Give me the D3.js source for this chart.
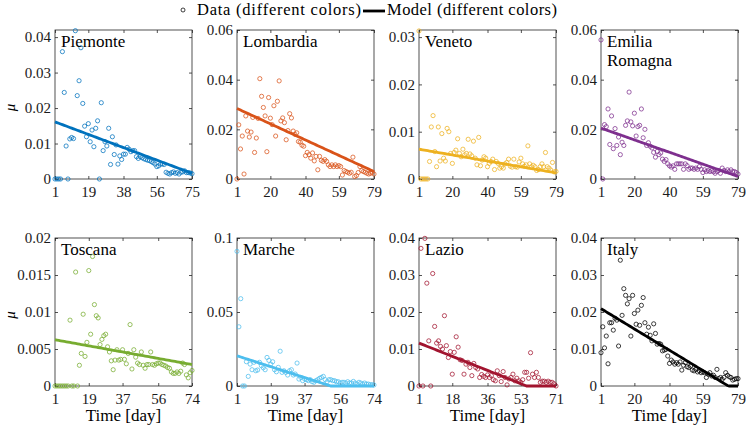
<!DOCTYPE html>
<html><head><meta charset="utf-8">
<script src="https://cdn.jsdelivr.net/npm/d3@7"></script>
<style>body{margin:0;background:#fff} svg{display:block}</style>
</head><body><svg id="c" width="746" height="428"></svg>
<script>
const regions = ["Piemonte","Lombardia","Veneto","Emilia\nRomagna","Toscana","Marche","Lazio","Italy"];
const colors = ["#0072BD","#D95319","#EDB120","#7E2F8E","#77AC30","#4DBEEE","#A2142F","#000000"];

const piemonte = [0,0,0,0,0.0359,0.0244,0.0093,0,0.0113,0.0117,
0.0114,0.0418,0.0235,0.0277,0.037,0.0213,0.0149,0.0119,0.0156,0.0105,
0.0138,0.0091,0.0143,0.0164,0,0.0215,0.008,0.0105,0.0093,0.0143,
0.0041,0.0119,0.0069,0.0096,0.0042,0.0065,0.0055,0.007,0.007,0.0089,
0.0084,0.0077,0.008,0.008,0.0063,0.0058,0.0063,0.006,0.0057,0.0055,
0.0053,0.0052,0.0049,0.0046,0.0042,0.0035,0.0037,0.0042,0.0042,0.0041,
0.0019,0.0016,0.0014,0.0018,0.002,0.0016,0.0018,0.0014,0.0019,0.002,
0.0023,0.0018,0.0018,0.0017,0.0015];
const lombardia = [0,0.0218,0.0121,0.0173,0.002,0.0254,0.0193,0.0169,0.0189,0.0248,
0.0107,0.0165,0.0244,0.0404,0.0333,0.0288,0.0254,0.011,0.0328,0.0245,
0.0219,0.0295,0.0173,0.0313,0.0395,0.0234,0.0246,0.0227,0.0158,0.0195,
0.0263,0.0246,0.0193,0.018,0.0186,0.0151,0.0148,0.0136,0.0132,0.0094,
0.0107,0.0098,0.0084,0.0105,0.0073,0.0091,0.0037,0.0091,0.0075,0.0071,
0.0078,0.0071,0.0057,0.005,0.0057,0.005,0.0057,0.005,0.0054,0.005,
0.0016,0.0034,0.003,0.0027,0.0023,0.0027,0.0088,0.001,0.0014,0.0026,
0.005,0.0034,0.003,0.0027,0.0023,0.002,0.0023,0.0027,0.002];
const veneto = [0.0313,0,0,0,0,0,0.0037,0.011,0.0134,0.0058,
0.0026,0.011,0.0038,0.0096,0.0044,0.0038,0.0107,0.01,0.0054,0.0033,
0.0056,0.0061,0.0085,0.0054,0.0047,0.0063,0.0051,0.0054,0.0084,0.0053,
0.0049,0.008,0.0044,0.003,0.0088,0.0028,0.004,0.0047,0.0044,0.0026,
0.0033,0.0037,0.0042,0.002,0.0037,0.0033,0.0023,0.0026,0.0023,0.0032,
0.0035,0.0042,0.0027,0.0025,0.0042,0.0026,0.0025,0.0036,0.0044,0.0032,
0.0027,0.003,0.007,0.0032,0.0026,0.0029,0.0026,0.0018,0.002,0.0026,
0.0032,0.0026,0.0056,0.0026,0.0023,0.0019,0.0035,0.0015,0.0016];
const emilia = [0.056,0,0.0219,0.0211,0.0282,0.0139,0.0254,0.0122,0.0203,0.0135,
0.0169,0.0098,0.0148,0.0135,0.0216,0.0234,0.035,0.023,0.0214,0.0265,
0.0173,0.0211,0.0216,0.0282,0.0166,0.02,0.0135,0.0146,0.0132,0.0125,
0.0107,0.0088,0.0111,0.0098,0.0105,0.008,0.0071,0.0078,0.0061,0.0053,
0.0048,0.0053,0.0039,0.0061,0.0061,0.0061,0.0061,0.0039,0.0061,0.0054,
0.0039,0.0044,0.0044,0.0039,0.0044,0.0039,0.005,0.0039,0.0026,0.0037,
0.003,0.0034,0.003,0.0034,0.0029,0.0023,0.003,0.0034,0.0023,0.0044,
0.0034,0.003,0.0037,0.003,0.0037,0.003,0.003,0.0026,0.002];
const toscana = [0,0,0,0,0,0,0,0,0.0089,0,
0,0.0154,0,0.0028,0.0044,0.0097,0.004,0.0059,0.0156,0.007,
0.0175,0.011,0.0095,0.0092,0.0056,0.0063,0.0068,0.007,0.0053,0.0046,
0.0034,0.0022,0.0035,0.0049,0.0035,0.0036,0.0049,0.0036,0.003,0.0044,
0.0083,0.0023,0.0049,0.0039,0.0031,0.0029,0.0046,0.0028,0.0024,0.0029,
0.0029,0.0046,0.0029,0.0028,0.003,0.0031,0.0031,0.0029,0.0028,0.0027,
0.0025,0.0024,0.0019,0.0017,0.0017,0.0019,0.0017,0.002,0.0031,0.0029,
0.0015,0.0011,0.0018,0.0021];
const marche = [0.091,0.04,0.059,0,0,0.0164,0.0065,0.0148,0.011,0.016,
0.0103,0.0108,0.016,0.0137,0.0123,0.011,0.0193,0.0173,0.0148,0.0164,
0.011,0.0096,0.0126,0.0235,0.0092,0.0103,0.0092,0.0074,0.0103,0.011,
0.0074,0.0081,0.0155,0.0047,0.0058,0.0036,0.0047,0.0043,0.0036,0.0043,
0.0029,0.0025,0.0036,0.0043,0.0052,0.0058,0.0065,0.0043,0.0029,0.0043,
0.0043,0.0036,0.0036,0.0029,0.0029,0.002,0.0025,0.0025,0.002,0.0029,
0.002,0.002,0.0031,0.002,0.0013,0.0025,0.002,0.0013,0.002,0.0013,
0.0013,0.0009,0.0009,0.0007];
const lazio = [0,0.0372,0,0.0399,0.0278,0.0122,0,0.0304,0.0161,0.0116,
0.0122,0.0107,0.01,0.019,0.0109,0.0077,0.0093,0.0032,0.0091,0.0133,
0.0105,0.0071,0.0069,0.0032,0.0059,0.0064,0.005,0.0028,0.0061,0.005,
0.0046,0.0023,0.0031,0.0026,0.0023,0.003,0.0023,0.0028,0.0017,0.0014,
0.0041,0.0028,0.0012,0.0039,0.0023,0.0003,0.0019,0.0023,0.0032,0.0014,
0.0021,0.0014,0.001,0.0017,0.0037,0.0037,0.0021,0.009,0.0032,0.0023,
0.0037,0.0023,0.001,0.0013,0.0013,0.001,0.0013,0.001,0.001,0.0006,
0];
const italy = [0.009,0.016,0.0103,0.0135,0.006,0.0171,0.0171,0.0151,0.0183,0.0178,
0.0108,0.034,0.0191,0.0263,0.0245,0.0222,0.0236,0.0135,0.0245,0.0196,
0.0167,0.0205,0.0164,0.0218,0.0239,0.0171,0.014,0.0159,0.0137,0.0122,
0.0168,0.0142,0.0113,0.0115,0.0113,0.0095,0.0097,0.0099,0.0081,0.0061,
0.007,0.0065,0.0059,0.0063,0.0059,0.0065,0.0043,0.0056,0.0063,0.0052,
0.005,0.0054,0.0043,0.0041,0.0045,0.0038,0.0041,0.0036,0.0038,0.0036,
0.0023,0.0032,0.0036,0.0027,0.0029,0.0023,0.0045,0.002,0.0023,0.0018,
0.0023,0.0036,0.0029,0.0025,0.0023,0.0016,0.0018,0.002,0.002];

const series = [piemonte, lombardia, veneto, emilia, toscana, marche, lazio, italy];
const xMax = [75,79,79,79,74,74,71,79];
const xTicks = [[1,19,38,56,75],[1,20,40,59,79],[1,20,40,59,79],[1,20,40,59,79],
                [1,19,37,56,74],[1,19,37,56,74],[1,18,36,53,71],[1,20,40,59,79]];
const yMax = [0.042,0.06,0.0315,0.06,0.02,0.1,0.04,0.04];
const yTicks = [[0,0.01,0.02,0.03,0.04],[0,0.02,0.04,0.06],[0,0.01,0.02,0.03],[0,0.02,0.04,0.06],
                [0,0.005,0.01,0.015,0.02],[0,0.05,0.1],[0,0.01,0.02,0.03,0.04],[0,0.01,0.02,0.03,0.04]];
// linear model: value at first day and at last day (unclipped), clipped at 0 when drawn
const modelStart = [0.0161,0.0284,0.0063,0.0205,0.00625,0.0204,0.0116,0.0209];
const modelEnd   = [0.0016,0.003,0.0013,0.001,0.0029,-0.0094,-0.00316,-0.00159];
const legendLabels = ["Data (different colors)", "Model (different colors)"];

const svg = d3.select("#c");
const FONT = "'Liberation Serif', 'Times New Roman', serif";
const AX = "#262626";
const colLeft = [55,237,419,601], W = 137;
const rowTop = [30,238], rowBot = [179,386];

series.forEach((vals, i) => {
  const r = Math.floor(i/4), c = i%4;
  const L = colLeft[c], R = L + W, T = rowTop[r], B = rowBot[r];
  const x = d3.scaleLinear([1, xMax[i]], [L, R]);
  const y = d3.scaleLinear([0, yMax[i]], [B, T]);
  const g = svg.append("g");
  const fmt = d => d === 0 ? "0" : String(d);
  const styleAxis = sel => {
    sel.select(".domain").remove();
    sel.selectAll(".tick line").attr("stroke", AX).attr("stroke-width", 0.8);
    sel.selectAll(".tick text").attr("fill", "#1a1a1a").style("font-family", FONT).style("font-size", "15px");
  };
  g.append("g").attr("transform", `translate(0,${B})`)
    .call(d3.axisBottom(x).tickValues(xTicks[i]).tickSize(-3).tickPadding(7.5).tickFormat(fmt)).call(styleAxis);
  g.append("g").attr("transform", `translate(0,${T})`)
    .call(d3.axisTop(x).tickValues(xTicks[i]).tickSize(-3).tickFormat("")).call(styleAxis);
  g.append("g").attr("transform", `translate(${L},0)`)
    .call(d3.axisLeft(y).tickValues(yTicks[i]).tickSize(-3).tickPadding(4).tickFormat(fmt)).call(styleAxis);
  g.append("g").attr("transform", `translate(${R},0)`)
    .call(d3.axisRight(y).tickValues(yTicks[i]).tickSize(-3).tickFormat("")).call(styleAxis);
  g.append("rect").attr("x", L).attr("y", T).attr("width", W).attr("height", B-T)
    .attr("fill", "none").attr("stroke", AX).attr("stroke-width", 0.8);

  // data circles
  g.selectAll("circle.d").data(vals).join("circle")
    .attr("cx", (d, k) => x(k+1)).attr("cy", d => y(d)).attr("r", 2.1)
    .attr("fill", "none").attr("stroke", colors[i]).attr("stroke-width", 0.75);

  // model line
  const n = xMax[i];
  const days = d3.range(1, n+1);
  const m = t => Math.max(0, modelStart[i] + (modelEnd[i]-modelStart[i])*(t-1)/(n-1));
  g.append("path").datum(days)
    .attr("d", d3.line().x(t => x(t)).y(t => y(m(t))))
    .attr("fill", "none").attr("stroke", colors[i]).attr("stroke-width", 2.8);

  // title
  const lines = regions[i].split("\n");
  const tt = g.append("text").attr("x", L+6).attr("y", T+17)
    .style("font-family", FONT).style("font-size", "17px").attr("fill", "#000");
  lines.forEach((ln, k) => tt.append("tspan").attr("x", L+6).attr("dy", k ? 19 : 0).text(ln));

  if (c === 0) {
    g.append("text").attr("transform", `translate(15,${(T+B)/2+3}) rotate(-90)`)
      .attr("text-anchor", "middle").style("font-family", FONT).style("font-style", "italic")
      .style("font-size", "15px").text("μ");
  }
  if (r === 1) {
    g.append("text").attr("x", (L+R)/2).attr("y", B+35).attr("text-anchor", "middle")
      .style("font-family", FONT).style("font-size", "17px").attr("fill", "#000").text("Time [day]");
  }
});

// legend
const lg = svg.append("g").style("font-family", FONT).style("font-size", "16.5px");
lg.append("circle").attr("cx", 183).attr("cy", 10).attr("r", 2).attr("fill", "none")
  .attr("stroke", "#000").attr("stroke-width", 0.75);
lg.append("text").attr("x", 197).attr("y", 15).attr("textLength", 164).attr("lengthAdjust", "spacing")
  .text(legendLabels[0]);
lg.append("line").attr("x1", 363).attr("x2", 385).attr("y1", 11).attr("y2", 11)
  .attr("stroke", "#000").attr("stroke-width", 2.8);
lg.append("text").attr("x", 387).attr("y", 15).attr("textLength", 170).attr("lengthAdjust", "spacing")
  .text(legendLabels[1]);
</script></body></html>
